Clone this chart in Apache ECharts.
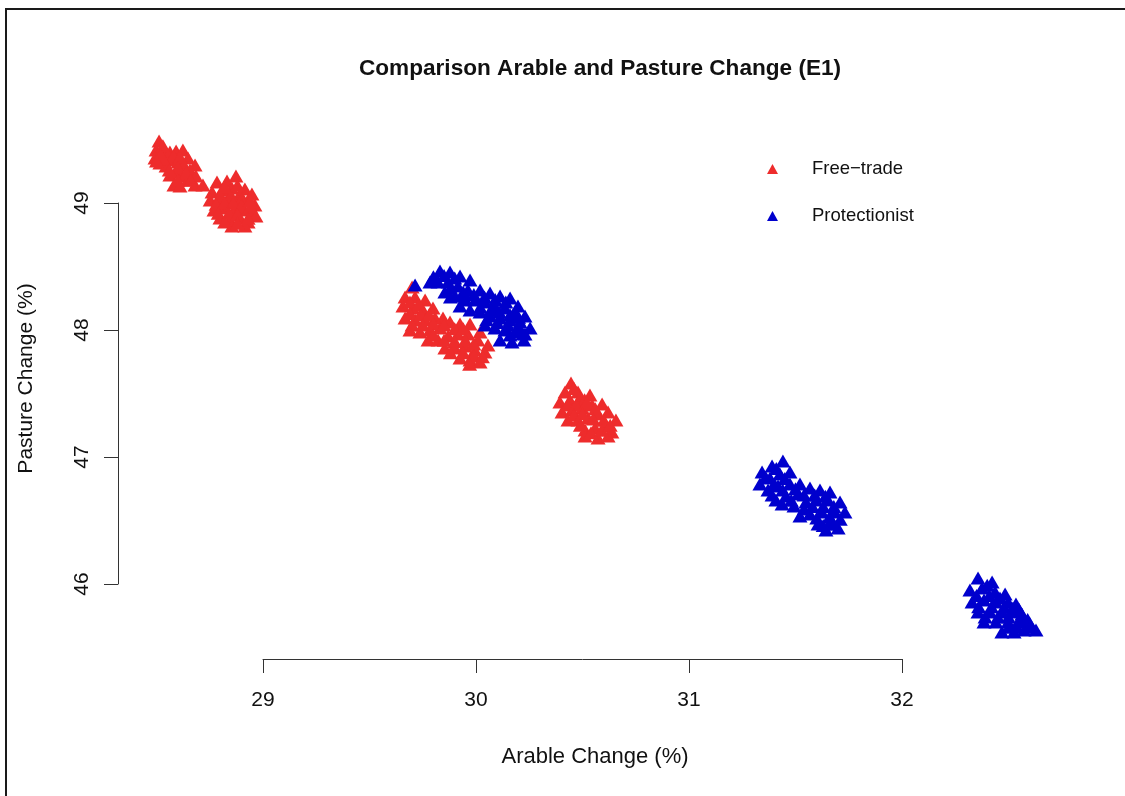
<!DOCTYPE html>
<html>
<head>
<meta charset="utf-8">
<script src="https://cdn.jsdelivr.net/npm/echarts@6/dist/echarts.min.js"></script>
<style>
  html, body { margin: 0; padding: 0; background: #fff; }
  #main { width: 1125px; height: 796px; }
</style>
</head>
<body>
<div id="main"></div>
<script>
// axis ranges (R style: axis line only from first to last tick)
var xRange = [29, 32];
var yRange = [46, 49];
var seriesNames = ['Free\u2212trade', 'Protectionist'];

// Free-trade clusters
var freeTrade1 = [
  [28.512, 49.488], [28.498, 49.417], [28.493, 49.354], [28.526, 49.417], [28.545, 49.378],
  [28.563, 49.402], [28.592, 49.409], [28.624, 49.417], [28.648, 49.354], [28.681, 49.299],
  [28.516, 49.315], [28.545, 49.291], [28.573, 49.339], [28.601, 49.323], [28.629, 49.299],
  [28.657, 49.260], [28.563, 49.220], [28.592, 49.244], [28.620, 49.213], [28.648, 49.181],
  [28.582, 49.142], [28.610, 49.134], [28.681, 49.142], [28.718, 49.142], [28.685, 49.213],
  [28.53, 49.45], [28.58, 49.37], [28.61, 49.36], [28.53, 49.35], [28.60, 49.28],
  [28.56, 49.26], [28.64, 49.24], [28.60, 49.18], [28.66, 49.18], [28.52, 49.38], [28.50, 49.33]
];
var freeTrade2 = [
  [28.784, 49.165], [28.831, 49.173], [28.873, 49.213], [28.915, 49.110], [28.948, 49.071],
  [28.761, 49.087], [28.808, 49.102], [28.854, 49.118], [28.892, 49.071], [28.752, 49.024],
  [28.789, 49.024], [28.836, 49.039], [28.883, 49.008], [28.930, 49.024], [28.962, 48.984],
  [28.770, 48.945], [28.817, 48.961], [28.864, 48.945], [28.911, 48.945], [28.948, 48.913],
  [28.798, 48.882], [28.845, 48.866], [28.892, 48.882], [28.930, 48.850], [28.854, 48.819],
  [28.915, 48.819], [28.967, 48.898],
  [28.80, 49.06], [28.85, 49.06], [28.90, 49.03], [28.78, 48.99], [28.82, 49.00],
  [28.86, 49.00], [28.90, 48.98], [28.94, 48.97], [28.79, 48.92], [28.84, 48.92],
  [28.88, 48.91], [28.93, 48.88], [28.82, 48.85], [28.88, 48.84], [28.82, 49.13],
  [28.88, 49.14], [28.94, 49.02]
];
var freeTrade3 = [
  [29.700, 48.339], [29.667, 48.260], [29.714, 48.260], [29.761, 48.236], [29.657, 48.189],
  [29.704, 48.173], [29.751, 48.157], [29.798, 48.173], [29.667, 48.094], [29.714, 48.079],
  [29.761, 48.079], [29.808, 48.094], [29.845, 48.094], [29.690, 48.000], [29.737, 47.984],
  [29.784, 48.000], [29.831, 48.016], [29.878, 48.063], [29.925, 48.047], [29.972, 48.047],
  [30.019, 47.984], [29.775, 47.921], [29.822, 47.921], [29.869, 47.953], [29.915, 47.969],
  [29.962, 47.969], [30.009, 47.921], [30.056, 47.882], [29.854, 47.858], [29.901, 47.858],
  [29.948, 47.874], [29.995, 47.843], [30.042, 47.827], [29.925, 47.780], [29.972, 47.764],
  [30.019, 47.748],
  [29.69, 48.22], [29.73, 48.20], [29.69, 48.13], [29.74, 48.12], [29.78, 48.12],
  [29.70, 48.04], [29.75, 48.04], [29.80, 48.05], [29.85, 48.04], [29.90, 48.01],
  [29.94, 48.01], [29.80, 47.96], [29.85, 47.92], [29.90, 47.91], [29.95, 47.92],
  [29.99, 47.89], [29.88, 47.82], [29.94, 47.82], [29.99, 47.80], [30.03, 47.79], [29.97, 47.73]
];
var freeTrade4 = [
  [30.446, 47.583], [30.418, 47.512], [30.479, 47.512], [30.394, 47.433], [30.441, 47.449],
  [30.488, 47.465], [30.535, 47.488], [30.404, 47.354], [30.451, 47.370], [30.498, 47.386],
  [30.545, 47.409], [30.592, 47.417], [30.432, 47.291], [30.479, 47.291], [30.526, 47.307],
  [30.573, 47.339], [30.620, 47.354], [30.657, 47.291], [30.512, 47.213], [30.559, 47.228],
  [30.606, 47.244], [30.638, 47.197], [30.512, 47.165], [30.573, 47.150], [30.620, 47.165],
  [30.46, 47.54], [30.51, 47.45], [30.43, 47.41], [30.47, 47.41], [30.52, 47.43],
  [30.56, 47.38], [30.46, 47.33], [30.50, 47.34], [30.55, 47.30], [30.60, 47.29],
  [30.49, 47.25], [30.54, 47.19], [30.59, 47.21], [30.63, 47.25]
];

// Protectionist clusters
var protect1 = [
  [29.714, 48.354], [29.784, 48.378], [29.831, 48.465], [29.878, 48.457], [29.925, 48.425],
  [29.972, 48.394], [30.019, 48.315], [30.066, 48.291], [30.113, 48.268], [30.160, 48.252],
  [30.197, 48.189], [29.822, 48.378], [29.869, 48.378], [29.915, 48.346], [29.962, 48.315],
  [29.854, 48.299], [29.901, 48.268], [29.948, 48.236], [29.995, 48.236], [30.042, 48.220],
  [30.089, 48.189], [30.136, 48.173], [30.183, 48.142], [30.230, 48.110], [29.925, 48.189],
  [29.972, 48.157], [30.019, 48.142], [30.066, 48.110], [30.113, 48.094], [30.160, 48.079],
  [30.207, 48.063], [30.254, 48.016], [30.042, 48.039], [30.089, 48.016], [30.136, 48.000],
  [30.183, 47.984], [30.230, 47.969], [30.113, 47.921], [30.169, 47.906], [30.225, 47.921],
  [29.80, 48.42], [29.85, 48.43], [29.90, 48.41], [29.88, 48.33], [29.94, 48.30],
  [29.99, 48.28], [29.88, 48.26], [29.94, 48.27], [30.04, 48.26], [30.09, 48.24],
  [30.14, 48.22], [30.02, 48.18], [30.07, 48.16], [30.11, 48.14], [30.16, 48.12],
  [30.20, 48.10], [30.05, 48.08], [30.10, 48.06], [30.15, 48.04], [30.20, 48.02],
  [30.16, 47.96], [30.22, 47.97]
];
var protect2 = [
  [31.441, 46.969], [31.390, 46.929], [31.343, 46.882], [31.474, 46.882], [31.427, 46.866],
  [31.380, 46.835], [31.333, 46.787], [31.521, 46.787], [31.474, 46.787], [31.418, 46.772],
  [31.371, 46.740], [31.568, 46.756], [31.615, 46.740], [31.662, 46.724], [31.512, 46.709],
  [31.455, 46.693], [31.408, 46.661], [31.709, 46.646], [31.653, 46.661], [31.596, 46.661],
  [31.549, 46.646], [31.493, 46.614], [31.437, 46.630], [31.685, 46.567], [31.624, 46.567],
  [31.568, 46.551], [31.521, 46.535], [31.732, 46.567], [31.662, 46.488], [31.606, 46.472],
  [31.700, 46.441], [31.643, 46.425],
  [31.41, 46.91], [31.36, 46.84], [31.45, 46.83], [31.40, 46.79], [31.50, 46.75],
  [31.44, 46.74], [31.39, 46.70], [31.54, 46.70], [31.59, 46.70], [31.64, 46.69],
  [31.48, 46.66], [31.58, 46.61], [31.63, 46.61], [31.68, 46.61], [31.54, 46.59],
  [31.60, 46.52], [31.66, 46.53], [31.71, 46.51], [31.63, 46.46], [31.68, 46.47]
];
var protect3 = [
  [32.357, 46.047], [32.423, 46.016], [32.319, 45.953], [32.376, 45.969], [32.437, 45.937],
  [32.484, 45.921], [32.329, 45.858], [32.385, 45.874], [32.441, 45.858], [32.498, 45.858],
  [32.535, 45.843], [32.357, 45.780], [32.413, 45.780], [32.469, 45.780], [32.516, 45.780],
  [32.563, 45.764], [32.385, 45.701], [32.441, 45.701], [32.498, 45.701], [32.545, 45.701],
  [32.601, 45.685], [32.469, 45.622], [32.526, 45.622], [32.573, 45.638], [32.629, 45.638],
  [32.40, 45.99], [32.35, 45.91], [32.41, 45.91], [32.46, 45.89], [32.36, 45.82],
  [32.42, 45.82], [32.48, 45.82], [32.52, 45.81], [32.55, 45.80], [32.39, 45.74],
  [32.45, 45.74], [32.50, 45.74], [32.56, 45.73], [32.59, 45.72], [32.50, 45.66],
  [32.54, 45.66], [32.60, 45.66]
];

var freeTrade = freeTrade1.concat(freeTrade2, freeTrade3, freeTrade4);
var protectionist = protect1.concat(protect2, protect3);

var font = 'Liberation Sans, Arial, Helvetica, sans-serif';
var myChart = echarts.init(document.getElementById('main'), null, { renderer: 'canvas' });

var option = {
  backgroundColor: '#ffffff',
  animation: false,
  title: {
    text: 'Comparison Arable and Pasture Change (E1)',
    left: 354,
    top: 52,
    textStyle: { fontFamily: font, fontSize: 22.6, fontWeight: 'bold', color: '#111' }
  },
  legend: {
    orient: 'vertical',
    left: 762,
    top: 154,
    icon: 'triangle',
    itemWidth: 11,
    itemHeight: 10,
    itemGap: 27,
    data: seriesNames,
    textStyle: {
      fontFamily: font, fontSize: 18.5, color: '#111',
      lineHeight: 20, padding: [0, 0, 0, 29]
    }
  },
  graphic: [{
    // outer frame (top and left edges visible)
    type: 'rect',
    shape: { x: 6, y: 9, width: 1140, height: 820 },
    style: { fill: 'none', stroke: '#1a1a1a', lineWidth: 2 },
    silent: true
  }],
  grid: { left: 263, right: 223, top: 203, bottom: 212 },
  xAxis: {
    type: 'value',
    min: xRange[0], max: xRange[1], interval: 1,
    offset: 75,
    name: 'Arable Change (%)',
    nameLocation: 'middle',
    nameGap: 87,
    nameTextStyle: { fontFamily: font, fontSize: 22, color: '#111', padding: [0, 0, 0, 25] },
    axisLine: { show: true, lineStyle: { color: '#333', width: 1 } },
    axisTick: { show: true, length: 14, lineStyle: { color: '#333', width: 1 } },
    axisLabel: { fontFamily: font, fontSize: 21, color: '#111', margin: 31 },
    splitLine: { show: false }
  },
  yAxis: {
    type: 'value',
    min: yRange[0], max: yRange[1], interval: 1,
    offset: 145,
    name: 'Pasture Change (%)',
    nameLocation: 'middle',
    nameRotate: 90,
    nameGap: 81,
    nameTextStyle: { fontFamily: font, fontSize: 21, color: '#111', padding: [0, 0, 0, 30] },
    axisLine: { show: true, lineStyle: { color: '#333', width: 1 } },
    axisTick: { show: true, length: 14, lineStyle: { color: '#333', width: 1 } },
    axisLabel: { fontFamily: font, fontSize: 21, color: '#111', margin: 25, rotate: 90 },
    splitLine: { show: false }
  },
  series: [{
    name: seriesNames[0],
    type: 'scatter',
    symbol: 'triangle',
    symbolSize: [15, 13],
    clip: false,
    itemStyle: { color: '#EE2C2C', opacity: 1 },
    data: freeTrade
  }, {
    name: seriesNames[1],
    type: 'scatter',
    symbol: 'triangle',
    symbolSize: [15, 13],
    clip: false,
    itemStyle: { color: '#0000CD', opacity: 1 },
    data: protectionist
  }]
};
myChart.setOption(option);
</script>
</body>
</html>
